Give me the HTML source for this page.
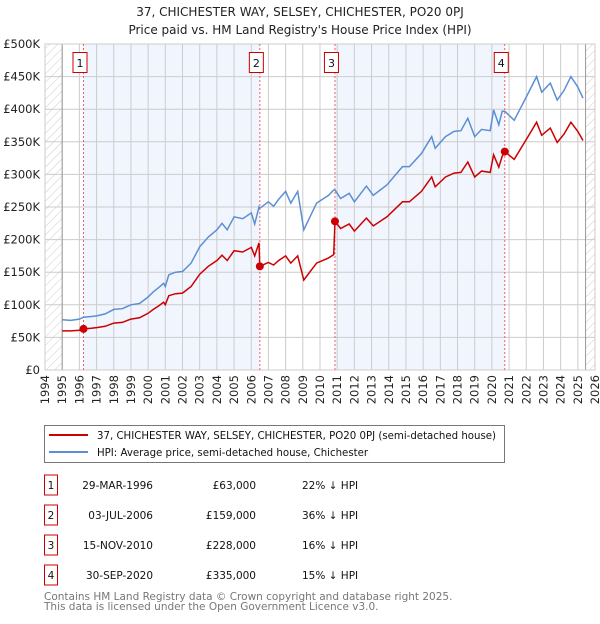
<!DOCTYPE html>
<html><head><meta charset="utf-8"><style>
body{margin:0;background:#fff;font-family:"DejaVu Sans","Liberation Sans",sans-serif;}
svg text{font-family:"DejaVu Sans","Liberation Sans",sans-serif;}
</style></head><body>
<svg id="chart" width="600" height="620" xmlns="http://www.w3.org/2000/svg">
<defs>
<pattern id="hatch" patternUnits="userSpaceOnUse" width="6" height="6" patternTransform="rotate(45)">
<rect width="6" height="6" fill="#fff"/><line x1="0" y1="0" x2="0" y2="6" stroke="#ccc" stroke-width="1"/>
</pattern>
</defs>
<text x="300" y="16" text-anchor="middle" font-size="12" fill="#222">37, CHICHESTER WAY, SELSEY, CHICHESTER, PO20 0PJ</text>
<text x="300" y="34" text-anchor="middle" font-size="12" fill="#222">Price paid vs. HM Land Registry's House Price Index (HPI)</text>
<g id="plot"></g>
<g>
<rect x="44.5" y="425.5" width="460" height="37" fill="#fff" stroke="#777"/>
<line x1="49" y1="435" x2="88" y2="435" stroke="#cc0000" stroke-width="2"/>
<text x="97" y="439" font-size="10.2" fill="#111">37, CHICHESTER WAY, SELSEY, CHICHESTER, PO20 0PJ (semi-detached house)</text>
<line x1="49" y1="452" x2="88" y2="452" stroke="#5b8fd3" stroke-width="2"/>
<text x="97" y="456" font-size="10.2" fill="#111">HPI: Average price, semi-detached house, Chichester</text>
</g>
<g id="table"></g>
<text x="44" y="600" font-size="10.5" fill="#777">Contains HM Land Registry data © Crown copyright and database right 2025.</text>
<text x="44" y="610" font-size="10.5" fill="#777">This data is licensed under the Open Government Licence v3.0.</text>
</svg>
<script>
const hpiDates=[1995.0,1995.5,1996.0,1996.24,1996.7,1997.0,1997.5,1998.0,1998.5,1999.0,1999.5,2000.0,2000.3,2000.6,2000.9,2001.0,2001.2,2001.6,2002.0,2002.5,2003.0,2003.5,2004.0,2004.3,2004.6,2005.0,2005.5,2006.0,2006.2,2006.45,2006.5,2007.0,2007.3,2007.6,2008.0,2008.3,2008.7,2009.06,2009.8,2010.5,2010.8,2010.87,2011.2,2011.7,2012.0,2012.7,2013.1,2013.9,2014.8,2015.2,2015.9,2016.5,2016.7,2017.3,2017.8,2018.2,2018.6,2019.0,2019.4,2019.9,2020.1,2020.4,2020.6,2020.75,2021.3,2022.1,2022.6,2022.9,2023.4,2023.8,2024.2,2024.6,2025.0,2025.3];
const hpiValues=[77,76,78,81,82,83,86,93,94,100,102,112,120,126,133,128,146,150,151,164,189,204,215,225,215,235,232,241,224,250,248,258,251,262,274,256,274,215,256,268,276,276,263,271,258,282,268,284,312,312,332,358,340,358,366,367,386,358,369,367,399,376,397,397,383,424,450,426,440,414,429,450,434,417];
const priceValues=[60,60,61,63,64,65,67,72,73,78,80,87,93,98,104,100,114,117,118,128,147,159,168,176,168,183,181,188,175,195,159,165,161,168,175,164,175,138,164,172,177,228,217,224,213,233,221,235,258,258,274,296,281,296,302,303,319,296,305,303,330,311,328,335,323,358,380,360,371,349,362,380,366,352];
const saleDates=[1996.24,2006.5,2010.87,2020.75];
const salePrices=[63,159,228,335];
const saleLabels=['1','2','3','4'];
const saleDateText=['29-MAR-1996','03-JUL-2006','15-NOV-2010','30-SEP-2020'];
const salePriceText=['£63,000','£159,000','£228,000','£335,000'];
const saleHpiText=['22% ↓ HPI','36% ↓ HPI','16% ↓ HPI','15% ↓ HPI'];
const yTicks=[0,50,100,150,200,250,300,350,400,450,500];
const yTickLabels=['£0','£50K','£100K','£150K','£200K','£250K','£300K','£350K','£400K','£450K','£500K'];
const xTicks=[1994,1995,1996,1997,1998,1999,2000,2001,2002,2003,2004,2005,2006,2007,2008,2009,2010,2011,2012,2013,2014,2015,2016,2017,2018,2019,2020,2021,2022,2023,2024,2025,2026];

const NS='http://www.w3.org/2000/svg';
const X0=45,X1=595,Y0=370,Y1=44;
const x=v=>X0+(v-1994)/(2026-1994)*(X1-X0);
const y=v=>Y0-v/500*(Y0-Y1);
const plot=document.getElementById('plot');
function mk(tag,attrs,parent){const e=document.createElementNS(NS,tag);for(const k in attrs)e.setAttribute(k,attrs[k]);(parent||plot).appendChild(e);return e;}

let bg=mk('rect',{x:X0,y:Y1,width:X1-X0,height:Y0-Y1,fill:'#fff'});


let h1=mk('rect',{x:X0,y:Y1,width:x(1995)-X0,height:Y0-Y1,fill:'url(#hatch)'});


let h2=mk('rect',{x:x(2025.45),y:Y1,width:X1-x(2025.45),height:Y0-Y1,fill:'url(#hatch)'});


[[0,1],[2,3]].forEach(p=>{
  const r=mk('rect',{x:x(saleDates[p[0]]),y:Y1,width:x(saleDates[p[1]])-x(saleDates[p[0]]),height:Y0-Y1,fill:'#f1f5fe'});
  
  
});
xTicks.forEach(t=>{
  const l=mk('line',{x1:x(t),x2:x(t),y1:Y1,y2:Y0,stroke:'#ccc','stroke-width':1});
  
  
  const tx=mk('text',{x:0,y:0,'font-size':11.5,fill:'#222','text-anchor':'end',transform:`translate(${x(t)+4},${Y0+5}) rotate(-90)`});
  tx.textContent=t;
  
  
});
yTicks.forEach((t,i)=>{
  const l=mk('line',{x1:X0,x2:X1,y1:y(t),y2:y(t),stroke:'#ccc','stroke-width':1});
  
  
  const tx=mk('text',{x:40,y:y(t)+4,'font-size':11.5,fill:'#222','text-anchor':'end'});
  tx.textContent=yTickLabels[i];
  
  
});
let ax=mk('line',{x1:x(1995),x2:x(1995),y1:Y1,y2:Y0,stroke:'#999'});


let ax2=mk('line',{x1:x(2025.45),x2:x(2025.45),y1:Y1,y2:Y0,stroke:'#999'});


let fr=mk('rect',{x:X0,y:Y1,width:X1-X0,height:Y0-Y1,fill:'none',stroke:'#ccc'});



saleDates.forEach((d,i)=>{
  const l=mk('line',{x1:x(d),x2:x(d),y1:Y1,y2:Y0,stroke:'#f06060','stroke-dasharray':'2,2','stroke-width':1});
  
  
  const r=mk('rect',{x:x(d)-10.5,y:52.5,width:14,height:20,fill:'#fff',stroke:'#cc0000'});
  
  
  const t=mk('text',{x:x(d)-3.5,y:67,'font-size':11,'text-anchor':'middle',fill:'#111'});
  t.textContent=saleLabels[i];
  
  
});
const path=(xs,vs)=>xs.map((d,i)=>(i?'L':'M')+x(d).toFixed(1)+','+y(vs[i]).toFixed(1)).join('');
let hp=mk('path',{d:path(hpiDates,hpiValues),fill:'none',stroke:'#5b8fd3','stroke-width':1.5});


let pp=mk('path',{d:path(hpiDates,priceValues),fill:'none',stroke:'#cc0000','stroke-width':1.5});


saleDates.forEach((d,i)=>{
  const c=mk('circle',{cx:x(d),cy:y(salePrices[i]),r:4,fill:'#cc0000'});
  
  
});

const tb=document.getElementById('table');
saleDates.forEach((d,i)=>{
  const cy=485+i*30;
  const r=mk('rect',{x:44.5,y:cy-10,width:13,height:20,fill:'#fff',stroke:'#cc0000'},tb);
  
  
  const cells=[[51,'middle',saleLabels[i]],[153,'end',saleDateText[i]],[256,'end',salePriceText[i]],[302,'start',saleHpiText[i]]];
  cells.forEach(c=>{
    const t=mk('text',{x:c[0],y:cy+4,'font-size':10.5,'text-anchor':c[1],fill:'#111'},tb);
    t.textContent=c[2];
    
    
  });
});
</script>
</body></html>
